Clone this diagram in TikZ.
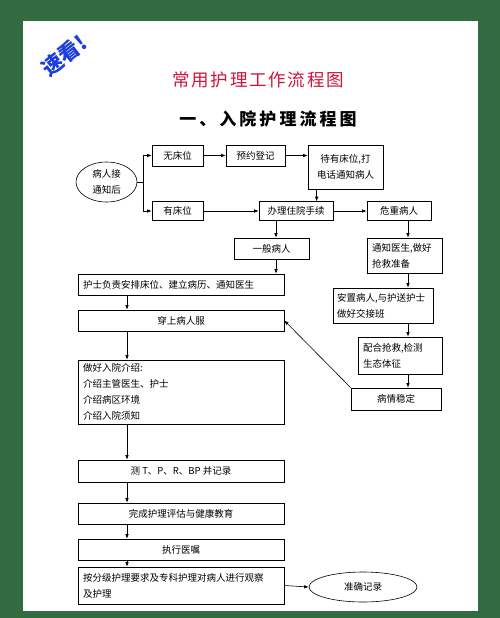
\documentclass[tikz,border=0pt]{standalone}
\usepackage{fontspec}
\newfontfamily\cjk{Noto Sans CJK SC}
\usepackage{tikz}
\usetikzlibrary{arrows.meta,positioning,shapes.geometric,calc}
\definecolor{bggreen}{RGB}{50,107,64}
\definecolor{titlered}{RGB}{208,20,58}
\definecolor{kanblue}{RGB}{30,62,222}

\begin{document}
\begin{tikzpicture}[x=1pt,y=-1pt,
  box/.style={draw,line width=0.6pt,inner xsep=5pt,inner ysep=0pt,font=\cjk\fontsize{9.5}{16}\selectfont},
  oval/.style={draw,ellipse,line width=0.6pt,inner sep=0pt,align=center,font=\cjk\fontsize{9.5}{16}\selectfont},
  arr/.style={-{Latex[length=4.5pt,width=3.5pt]},line width=0.6pt}]
\useasboundingbox (0,0) rectangle (500,618);
\fill[bggreen] (0,0) rectangle (500,618);
\fill[white] (23,21) rectangle (478,611);
% headings
\node[kanblue,rotate=38,font=\cjk\bfseries\fontsize{21}{21}\selectfont] (kan) at (64,56) {速看!};
\node[titlered,font=\cjk\fontsize{17.5}{18}\selectfont\addfontfeatures{LetterSpace=10}] (title) at (258,80) {常用护理工作流程图};
\node[font=\cjk\bfseries\fontsize{17}{18}\selectfont\addfontfeatures{LetterSpace=18}] (subtitle) at (268,119) {一、入院护理流程图};
% top part
\node[oval,minimum width=61,minimum height=40] (start) at (106.5,182) {病人接\\通知后};
\coordinate (branch) at (143,182);
\node[box,minimum width=51,minimum height=21] (wuchuang) at (177.5,155.5) {无床位};
\node[box,minimum width=59,minimum height=21] (yuyue) at (255.5,155.5) {预约登记};
\node[box,minimum width=75,minimum height=44,align=center] (daiyou) at (345.5,167) {待有床位,打\\电话通知病人};
\node[box,minimum width=51,minimum height=19] (youchuang) at (177.5,211) {有床位};
\node[box,minimum width=74,minimum height=19] (banli) at (296,211) {办理住院手续};
\node[box,minimum width=64,minimum height=19] (weizhong) at (399,211) {危重病人};
\node[box,minimum width=75,minimum height=21] (yiban) at (271.5,248.5) {一般病人};
% right column
\node[box,minimum height=35,text width=65,inner xsep=5pt,align=left] (tongzhi) at (404.5,255.5) {通知医生,做好\\抢救准备};
\node[box,minimum height=35,text width=92,inner xsep=4pt,align=left] (anzhi) at (383,305.5) {安置病人,与护送护士\\做好交接班};
\node[box,minimum height=37,text width=74,inner xsep=5pt,align=left] (peihe) at (400,355.5) {配合抢救,检测\\生态体征};
\node[box,minimum width=90,minimum height=22] (wending) at (396,399) {病情稳定};
% left column
\node[box,minimum height=21,text width=196,align=left] (hushi) at (181,284.5) {护士负责安排床位、建立病历、通知医生};
\node[box,minimum width=206,minimum height=21] (chuan) at (181,320.5) {穿上病人服};
\node[box,minimum height=64,text width=196,align=left] (jieshao) at (181,392) {做好入院介绍:\\介绍主管医生、护士\\介绍病区环境\\介绍入院须知};
\node[box,minimum width=206,minimum height=22] (ce) at (181,471) {测 T、P、R、BP 并记录};
\node[box,minimum width=206,minimum height=21] (wancheng) at (181,513.5) {完成护理评估与健康教育};
\node[box,minimum width=206,minimum height=21] (zhixing) at (181,549.5) {执行医嘱};
\node[box,minimum height=37,text width=196,align=left] (anfenji) at (181,585.5) {按分级护理要求及专科护理对病人进行观察\\及护理};
\node[oval,minimum width=108,minimum height=30] (jilu) at (363,587) {准确记录};
% connectors
\draw[line width=0.6pt] (start.east) -- (branch);
\draw[arr] (branch) |- (wuchuang.west);
\draw[arr] (branch) |- (youchuang.west);
\draw[arr] (wuchuang) -- (yuyue);
\draw[arr] (yuyue) -- (yuyue -| daiyou.west);
\draw[arr] ([xshift=9pt]daiyou.south west) -- ([xshift=9pt]daiyou.south west |- banli.north);
\draw[arr] (youchuang) -- (banli);
\draw[arr] (banli) -- (weizhong);
\draw[arr] ([xshift=-20pt]banli.south) -- ([xshift=-20pt]banli.south |- yiban.north);
\draw[arr] ([xshift=-20pt]banli.south |- yiban.south) -- ([xshift=-20pt]banli.south |- hushi.north);
\draw[arr] ([xshift=9pt]weizhong.south) -- ([xshift=9pt]weizhong.south |- tongzhi.north);
\draw[arr] ([xshift=9pt]weizhong.south |- tongzhi.south) -- ([xshift=9pt]weizhong.south |- anzhi.north);
\draw[arr] ([xshift=9pt]weizhong.south |- anzhi.south) -- ([xshift=9pt]weizhong.south |- peihe.north);
\draw[arr] ([xshift=9pt]weizhong.south |- peihe.south) -- ([xshift=9pt]weizhong.south |- wending.north);
\draw[arr] (wending.north west) -- (chuan.east);
\draw[arr] ([xshift=-54pt]hushi.south) -- ([xshift=-54pt]hushi.south |- chuan.north);
\draw[arr] ([xshift=-54pt]chuan.south) -- ([xshift=-54pt]chuan.south |- jieshao.north);
\draw[arr] ([xshift=-54pt]jieshao.south) -- ([xshift=-54pt]jieshao.south |- ce.north);
\draw[arr] ([xshift=-54pt]ce.south) -- ([xshift=-54pt]ce.south |- wancheng.north);
\draw[arr] ([xshift=-54pt]wancheng.south) -- ([xshift=-54pt]wancheng.south |- zhixing.north);
\draw[arr] ([xshift=-54pt]zhixing.south) -- ([xshift=-54pt]zhixing.south |- anfenji.north);
\draw[arr] (anfenji.east) -- (jilu.west);
\end{tikzpicture}
\end{document}
